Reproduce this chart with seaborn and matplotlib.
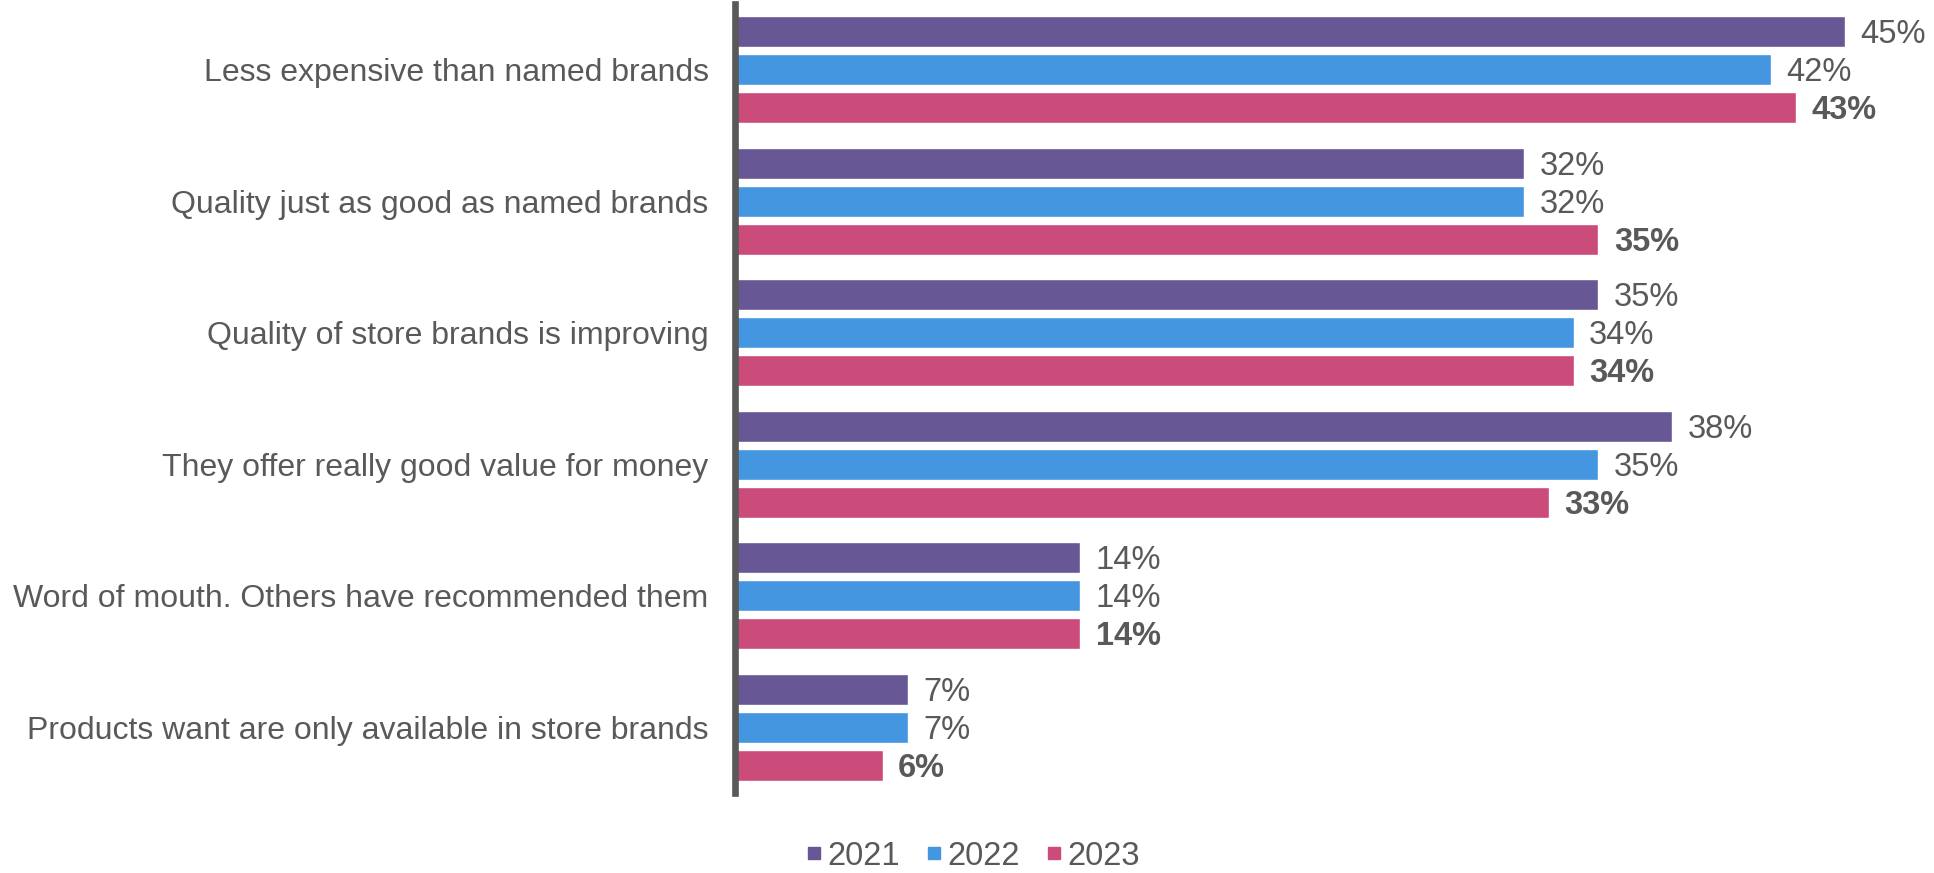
import matplotlib
matplotlib.use("Agg")
import matplotlib.pyplot as plt
from matplotlib.lines import Line2D
import seaborn as sns
import pandas as pd

categories = [
    "Less expensive than named brands",
    "Quality just as good as named brands",
    "Quality of store brands is improving",
    "They offer really good value for money",
    "Word of mouth. Others have recommended them",
    "Products want are only available in store brands",
]
years = ["2021", "2022", "2023"]
values_2021 = [45, 32, 35, 38, 14, 7]
values_2022 = [42, 32, 34, 35, 14, 7]
values_2023 = [43, 35, 34, 33, 14, 6]

colors = ["#675795", "#4596E0", "#CB4B7A"]
text_color = "#595959"

rows = []
for yr, vals in zip(years, [values_2021, values_2022, values_2023]):
    for cat, v in zip(categories, vals):
        rows.append({"reason": cat, "year": yr, "share": v})
df = pd.DataFrame(rows)

sns.set_theme(style="white")
plt.rcParams["font.family"] = ["Liberation Sans", "DejaVu Sans"]

fig = plt.figure(figsize=(19.34, 8.73), dpi=100)
ax = fig.add_axes([0.380, 0.0916, 0.620, 0.9038])

sns.barplot(data=df, y="reason", x="share", hue="year", order=categories,
            hue_order=years, palette=colors, orient="h", width=0.867,
            gap=0.18, saturation=1, ax=ax, legend=False)

ax.set_xlim(0, 48.6)
ax.set_ylim(5.5, -0.5)
ax.set_xlabel("")
ax.set_ylabel("")
ax.set_xticks([])
ax.tick_params(axis="y", length=0, pad=19, labelsize=23, labelcolor=text_color)
for s in ["top", "right", "bottom"]:
    ax.spines[s].set_visible(False)
ax.spines["left"].set_color("#595959")
ax.spines["left"].set_linewidth(4.8)

for container, yr in zip(ax.containers, years):
    weight = "bold" if yr == "2023" else "normal"
    anns = ax.bar_label(container,
                        labels=[f"{v:.0f}%" for v in container.datavalues],
                        padding=11, fontsize=23.5, color=text_color,
                        fontweight=weight)
    for a in anns:
        a.xyann = (11, -2)

handles = [Line2D([], [], marker="s", linestyle="none", markersize=8.5,
                  markerfacecolor=c, markeredgecolor=c) for c in colors]
fig.legend(handles, years, loc="center", bbox_to_anchor=(0.503, 0.019),
           ncol=3, frameon=False, fontsize=23.5, labelcolor=text_color,
           handletextpad=0.15, columnspacing=0.8, handlelength=0.5,
           borderpad=0)

fig.savefig("out.png", dpi=100)
